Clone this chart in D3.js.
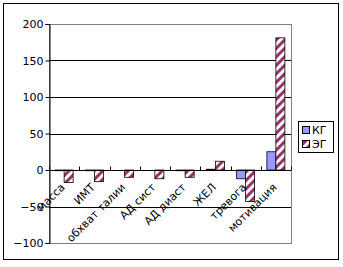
<!DOCTYPE html>
<html>
<head>
<meta charset="utf-8">
<script src="https://cdn.jsdelivr.net/npm/d3@7"></script>
<style>
  body { margin: 0; background: #fff; }
  text { font-family: "DejaVu Sans", Arial, sans-serif; font-size: 11px; fill: #000; }
</style>
</head>
<body>
<div id="chart"></div>
<script>
// categories and values
var categories = ['масса', 'ИМТ', 'обхват талии', 'АД сист', 'АД диаст', 'ЖЕЛ', 'тревога', 'мотивация'];
var seriesNames = ['КГ', 'ЭГ'];
var kgValues = [-1, -1, 0, 0, -1, 1, -12, 25];
var egValues = [-17, -16, -10, -12, -10, 12, -43, 181];
var yTicks = [-100, -50, 0, 50, 100, 150, 200];

var width = 343, height = 267;
// plot area (note: "top" is reserved on window, so use other names)
var plotL = 49, plotR = 291, plotT = 24, plotB = 243;

var svg = d3.select('#chart').append('svg')
    .attr('width', width)
    .attr('height', height);

// hatch pattern for ЭГ
var defs = svg.append('defs');
var pat = defs.append('pattern')
    .attr('id', 'hatch')
    .attr('patternUnits', 'userSpaceOnUse')
    .attr('width', 6).attr('height', 6)
    .attr('patternTransform', 'rotate(45)');
pat.append('rect').attr('width', 6).attr('height', 6).attr('fill', '#fff');
pat.append('rect').attr('width', 3).attr('height', 6).attr('fill', '#993366');

// outer frame
svg.append('rect')
    .attr('x', 3.5).attr('y', 3.5)
    .attr('width', 335).attr('height', 256)
    .attr('fill', 'none').attr('stroke', '#000');

var x = d3.scaleBand().domain(categories).range([plotL, plotR]);
var y = d3.scaleLinear().domain([-100, 200]).range([plotB, plotT]);

// plot border (gray)
svg.append('rect')
    .attr('x', plotL + 0.5).attr('y', plotT + 0.5)
    .attr('width', plotR - plotL).attr('height', plotB - plotT)
    .attr('fill', 'none').attr('stroke', '#808080');

// gridlines
svg.selectAll('.grid')
    .data(yTicks.filter(function(d) { return d != 0 && d != -100 && d != 200; }))
    .enter().append('line')
    .attr('x1', plotL).attr('x2', plotR)
    .attr('y1', function(d) { return Math.round(y(d)) + 0.5; })
    .attr('y2', function(d) { return Math.round(y(d)) + 0.5; })
    .attr('stroke', '#000');

// bars
var bw = 9;
var groups = svg.selectAll('.cat')
    .data(categories)
    .enter().append('g');

groups.append('rect')
    .attr('x', function(d, i) { return x(d) + x.bandwidth() / 2 - bw; })
    .attr('y', function(d, i) { return y(Math.max(0, kgValues[i])); })
    .attr('width', bw)
    .attr('height', function(d, i) { return Math.abs(y(kgValues[i]) - y(0)); })
    .attr('fill', '#9999ff')
    .attr('stroke', '#000').attr('stroke-width', 0.8);

groups.append('rect')
    .attr('x', function(d, i) { return x(d) + x.bandwidth() / 2; })
    .attr('y', function(d, i) { return y(Math.max(0, egValues[i])); })
    .attr('width', bw)
    .attr('height', function(d, i) { return Math.abs(y(egValues[i]) - y(0)); })
    .attr('fill', 'url(#hatch)')
    .attr('stroke', '#000').attr('stroke-width', 0.8);

// y axis
var yAxis = svg.append('g')
    .attr('transform', 'translate(' + (plotL + 0.5) + ',0)')
    .call(d3.axisLeft(y).tickValues(yTicks).tickSize(4).tickPadding(2));
yAxis.select('.domain').attr('stroke', '#000');
yAxis.selectAll('line').attr('stroke', '#000');
yAxis.selectAll('text')
    .style('font-size', '11px')
    .style('font-family', '"DejaVu Sans", Arial, sans-serif');

// x axis at zero
var zeroY = Math.round(y(0)) + 0.5;
svg.append('line')
    .attr('x1', plotL).attr('x2', plotR)
    .attr('y1', zeroY).attr('y2', zeroY)
    .attr('stroke', '#000');
svg.selectAll('.xtick')
    .data(categories.concat(['end']))
    .enter().append('line')
    .attr('x1', function(d, i) { return Math.round(plotL + i * x.step()) + 0.5; })
    .attr('x2', function(d, i) { return Math.round(plotL + i * x.step()) + 0.5; })
    .attr('y1', zeroY - 4).attr('y2', zeroY)
    .attr('stroke', '#000');

// rotated category labels
svg.selectAll('.xlab')
    .data(categories)
    .enter().append('text')
    .attr('text-anchor', 'end')
    .attr('transform', function(d) {
        return 'translate(' + (x(d) + x.bandwidth() / 2 - 4) + ',' + (zeroY + 12) + ') rotate(-45)';
    })
    .attr('dy', '0.7em')
    .text(function(d) { return d; });

// legend
var lg = svg.append('g').attr('transform', 'translate(298,121)');
lg.append('rect')
    .attr('x', 0.5).attr('y', 0.5)
    .attr('width', 35).attr('height', 31)
    .attr('fill', '#fff').attr('stroke', '#000');
var fills = ['#9999ff', 'url(#hatch)'];
seriesNames.forEach(function(name, i) {
    lg.append('rect')
        .attr('x', 4.5).attr('y', 5.5 + i * 14)
        .attr('width', 7).attr('height', 7)
        .attr('fill', fills[i]).attr('stroke', '#000');
    lg.append('text')
        .attr('x', 14).attr('y', 13 + i * 14)
        .text(name);
});
</script>
</body>
</html>
